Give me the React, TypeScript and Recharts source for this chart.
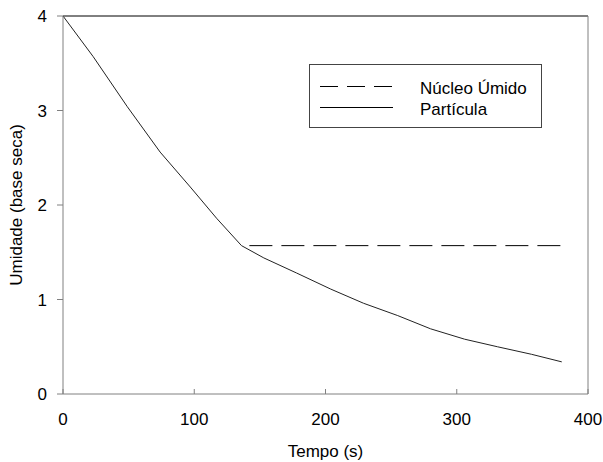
import {
	Line,
	LineChart,
	ReferenceLine,
	XAxis,
	YAxis,
} from "recharts";

const particulaTempo = [0, 23, 49, 74, 97, 117, 136, 153, 178, 204, 229, 255, 280, 306, 331, 357, 380];
const particulaUmidade = [4, 3.57, 3.04, 2.56, 2.19, 1.86, 1.57, 1.44, 1.28, 1.11, 0.96, 0.83, 0.69, 0.58, 0.5, 0.42, 0.34];

const nucleoTempo = [142, 380];
const nucleoUmidade = [1.57, 1.57];

const xTicks = [0, 100, 200, 300, 400];
const yTicks = [0, 1, 2, 3, 4];

const particula = particulaTempo.map((t, i) => ({ t, u: particulaUmidade[i] }));
const nucleo = nucleoTempo.map((t, i) => ({ t, u: nucleoUmidade[i] }));

const font = "'Liberation Sans', Arial, sans-serif";

// caixa da legenda, por cima do gráfico
function LegendBox() {
	return (
		<svg
			height={64}
			style={{ position: "absolute", left: 309, top: 64, display: "block" }}
			width={233}
		>
			<rect fill="#fff" height={63} stroke="#444" width={232} x={0.5} y={0.5} />
			<line stroke="#000" strokeDasharray="18 9" x1={11} x2={84} y1={22.5} y2={22.5} />
			<line stroke="#000" x1={11} x2={84} y1={43.5} y2={43.5} />
			<text fill="#000" fontFamily={font} fontSize={17} x={111} y={30}>
				Núcleo Úmido
			</text>
			<text fill="#000" fontFamily={font} fontSize={17} x={111} y={51}>
				Partícula
			</text>
		</svg>
	);
}

export default function App() {
	return (
		<div style={{ position: "absolute", left: 0, top: 0, fontFamily: font }}>
			<LineChart height={462} margin={{ top: 16, right: 15, left: 0, bottom: 0 }} width={603}>
				<XAxis
					axisLine={{ stroke: "#808080" }}
					dataKey="t"
					domain={[0, 400]}
					height={68}
					label={({ viewBox }: any) => (
						<text
							fill="#000"
							fontFamily={font}
							fontSize={17}
							textAnchor="middle"
							x={viewBox.x + viewBox.width / 2}
							y={457}
						>
							Tempo (s)
						</text>
					)}
					tick={{ fill: "#000", fontSize: 17 }}
					tickLine={{ stroke: "#808080" }}
					tickMargin={24}
					tickSize={-5}
					ticks={xTicks}
					type="number"
				/>
				<YAxis
					axisLine={{ stroke: "#808080" }}
					domain={[0, 4]}
					label={({ viewBox }: any) => (
						<text
							fill="#000"
							fontFamily={font}
							fontSize={17}
							textAnchor="middle"
							transform={`rotate(-90, 22, ${viewBox.y + viewBox.height / 2})`}
							x={22}
							y={viewBox.y + viewBox.height / 2}
						>
							Umidade (base seca)
						</text>
					)}
					tick={{ fill: "#000", fontSize: 17 }}
					tickLine={{ stroke: "#808080" }}
					tickMargin={10}
					tickSize={6}
					ticks={yTicks}
					type="number"
					width={63}
				/>
				<ReferenceLine stroke="#000" y={4} />
				<ReferenceLine stroke="#808080" x={400} />
				<Line
					data={nucleo}
					dataKey="u"
					dot={false}
					isAnimationActive={false}
					name="Núcleo Úmido"
					stroke="#000"
					strokeDasharray="23 9"
					strokeWidth={1}
					type="linear"
				/>
				<Line
					data={particula}
					dataKey="u"
					dot={false}
					isAnimationActive={false}
					name="Partícula"
					stroke="#222"
					strokeWidth={1}
					type="linear"
				/>
			</LineChart>
			<LegendBox />
		</div>
	);
}
